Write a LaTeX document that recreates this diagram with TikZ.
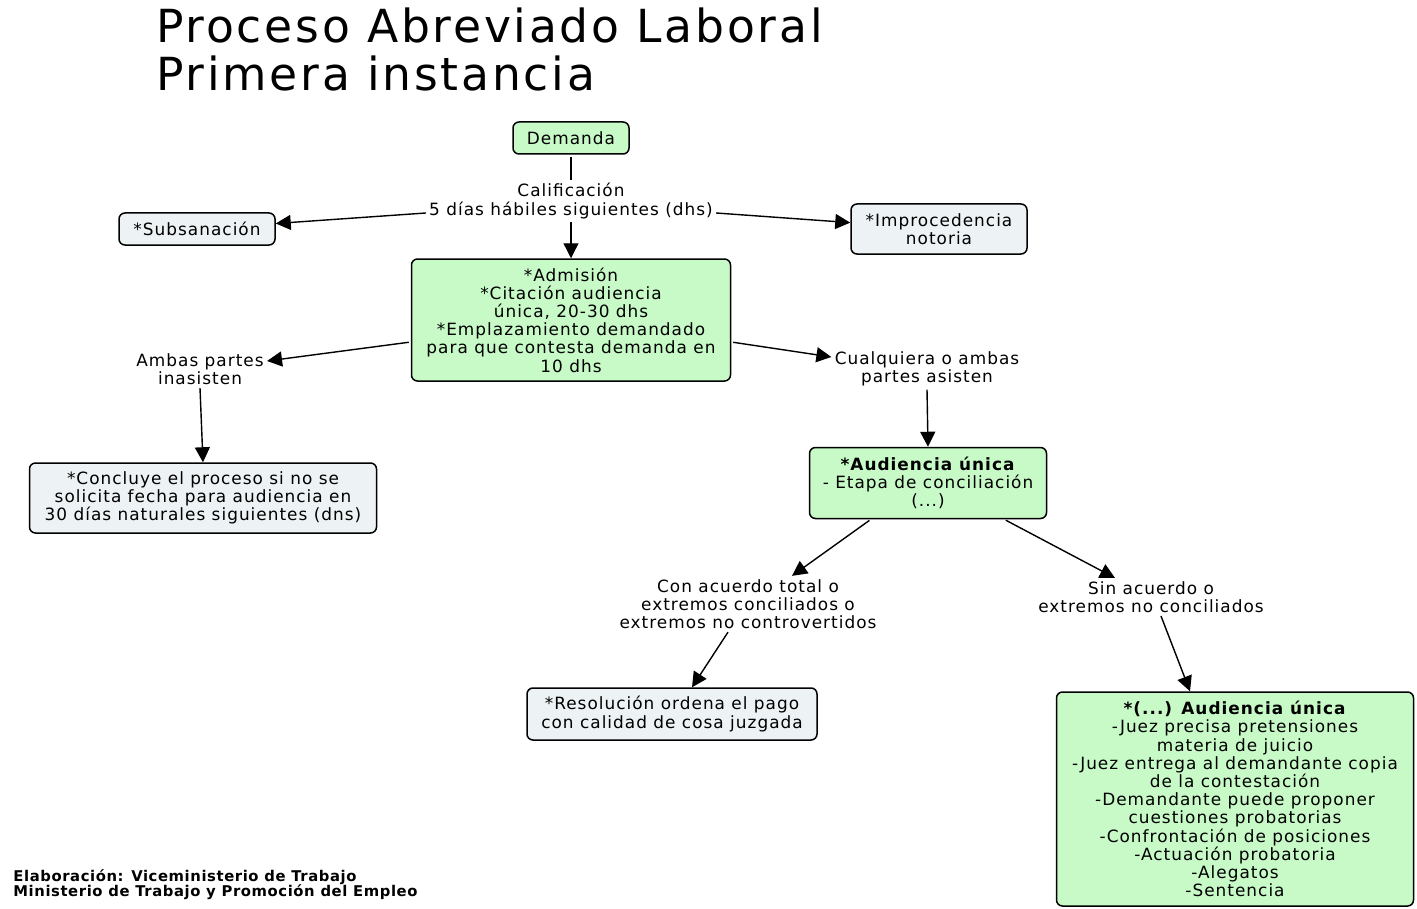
\documentclass[tikz,border=0pt]{standalone}
\usepackage{fontspec}
\setmainfont{DejaVu Sans}[LetterSpace=6]
\usetikzlibrary{positioning,arrows.meta,calc}

\definecolor{mapgreen}{RGB}{200,250,200}
\definecolor{mapgrey}{RGB}{237,242,244}
\newcommand{\mapfont}{\fontsize{8.45}{9.1}\selectfont}

\begin{document}
\begin{tikzpicture}[
x=0.5pt,y=-0.5pt,
greenbox/.style={
  draw,
  rounded corners=3pt,
  line width=0.75pt,
  fill=mapgreen,
  align=center,
  inner sep=1pt,
  font=\mapfont},
greybox/.style={
  greenbox,
  fill=mapgrey},
mylabel/.style={
  align=center,
  inner sep=1.5pt,
  font=\mapfont},
myarrow/.style={
  -{Triangle[length=7.5pt,width=7.5pt]},
  line width=0.7pt}
]
\useasboundingbox (0,0) rectangle (1417,909);
% title and footer
\node [anchor=base west,inner sep=0pt,font=\fontsize{22.8}{24}\selectfont] (title1) at (156,43) {Proceso Abreviado Laboral};
\node [anchor=base west,inner sep=0pt,font=\fontsize{22.8}{24}\selectfont] (title2) at (156,91) {Primera instancia};
\node [anchor=north west,align=left,inner sep=0pt,
  font=\fontsize{7.4}{7.6}\selectfont\bfseries\addfontfeature{LetterSpace=4}] (foot) at (13,869)
  {Elaboración: Viceministerio de Trabajo\\Ministerio de Trabajo y Promoción del Empleo};
% concepts
\node [greenbox,minimum width=58pt,minimum height=16pt] (dem) at (571,138) {Demanda};
\node [mylabel] (calif) at (571,201) {Calificación\\5 días hábiles siguientes (dhs)};
\node [greybox,minimum width=78pt,minimum height=16pt] (sub) at (197,229) {*Subsanación};
\node [greybox,minimum width=88pt,minimum height=25pt] (impro) at (939,229) {*Improcedencia\\notoria};
\node [greenbox,minimum width=159.5pt,minimum height=61pt] (adm) at (571,320)
  {*Admisión\\*Citación audiencia\\única, 20-30 dhs\\*Emplazamiento demandado\\para que contesta demanda en\\10 dhs};
\node [mylabel] (ambas) at (200,369) {Ambas partes\\inasisten};
\node [mylabel] (cualq) at (927,369) {Cualquiera o ambas\\partes asisten};
\node [greybox,minimum width=173.5pt,minimum height=35pt] (concl) at (203,498)
  {*Concluye el proceso si no se\\solicita fecha para audiencia en\\30 días naturales siguientes (dns)};
\node [greenbox,minimum width=118.5pt,minimum height=35.5pt] (aud) at (928,483)
  {\textbf{*Audiencia única}\\- Etapa de conciliación\\(...)};
\node [mylabel] (con) at (748,604) {Con acuerdo total o\\extremos conciliados o\\extremos no controvertidos};
\node [mylabel] (sin) at (1151,597) {Sin acuerdo o\\extremos no conciliados};
\node [greybox,minimum width=145pt,minimum height=26pt] (res) at (672,714)
  {*Resolución ordena el pago\\con calidad de cosa juzgada};
\node [greenbox,minimum width=178.5pt,minimum height=107pt] (fin) at (1235,799)
  {\textbf{*(...) Audiencia única}\\-Juez precisa pretensiones\\materia de juicio\\-Juez entrega al demandante copia\\de la contestación\\-Demandante puede proponer\\cuestiones probatorias\\-Confrontación de posiciones\\-Actuación probatoria\\-Alegatos\\-Sentencia};
% links
\draw [line width=0.7pt,shorten <=1pt] (dem.south) -- (calif.north);
\draw [myarrow] ([yshift=-6pt]calif.west) -- (sub);
\draw [myarrow] ([yshift=-6pt]calif.east) -- (impro);
\draw [myarrow] (calif.south) -- (adm.north);
\draw [myarrow,shorten <=1pt] ([yshift=-11pt]adm.west) -- ([yshift=4pt]ambas.east);
\draw [myarrow,shorten <=1pt] ([yshift=-11pt]adm.east) -- ([yshift=6pt]cualq.west);
\draw [myarrow] (ambas.south) -- (concl.north);
\draw [myarrow] (cualq.south) -- (aud.north);
\draw [myarrow,shorten <=1pt] ([xshift=-28.5pt]aud.south) -- ([xshift=22pt]con.north);
\draw [myarrow,shorten <=1pt] ([xshift=38pt]aud.south) -- ([xshift=-18pt]sin.north);
\draw [myarrow] ([xshift=-10pt]con.south) -- ([xshift=10pt]res.north);
\draw [myarrow] ([xshift=5pt]sin.south) -- ([xshift=-22.5pt]fin.north);
\end{tikzpicture}
\end{document}
